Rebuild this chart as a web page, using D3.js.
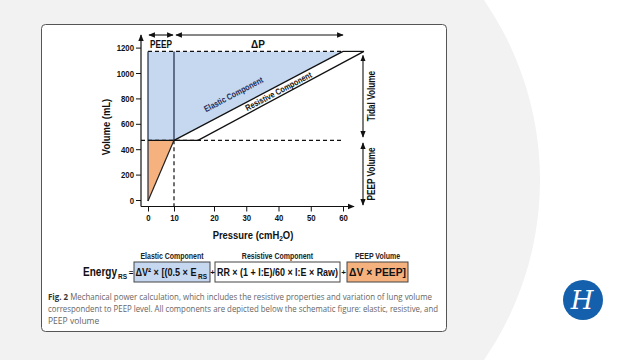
<!DOCTYPE html>
<html><head><meta charset="utf-8">
<script src="https://cdn.jsdelivr.net/npm/d3@7"></script>
<style>html,body{margin:0;padding:0;background:#fff;}svg{display:block;}</style>
</head><body>
<svg id="c" width="640" height="360"></svg>
<script>
// ---- data ----
const xTicks = [0, 10, 20, 30, 40, 50, 60];
const yTicks = [0, 200, 400, 600, 800, 1000, 1200];
const peepPressure = 10;
const peepVolume = 470;
const endVolume = 1170;
const plateauPressure = 60;
const peakPressure = 66.5;
const resistiveStart = 16;
const orangeTip = [0, -8];
const bluePts = [[0, 470], [0, 1170], [60, 1170], [10, 470]];
const orangePts = [[0, -8], [0, 470], [10, 470]];
const whitePts = [[10, 470], [16, 470], [66.5, 1170], [60, 1170]];
const equationLabels = ["Elastic Component", "Resistive Component", "PEEP Volume"];
const captionLines = [
  "Mechanical power calculation, which includes the resistive properties and variation of lung volume",
  "correspondent to PEEP level. All components are depicted below the schematic figure: elastic, resistive, and",
  "PEEP volume"
];

const svg = d3.select("#c");
const F = "'Liberation Sans', Arial, sans-serif";
const NARROW = 0.82;
// condense a text selection to emulate a narrow typeface
function narrow(sel, k) {
  sel.each(function () {
    const w = this.getComputedTextLength();
    d3.select(this).attr("textLength", w * (k || NARROW)).attr("lengthAdjust", "spacingAndGlyphs");
  });
  return sel;
}
// fit a text to a given width (only shrinks/condenses)
function fit(sel, width) {
  sel.each(function () {
    const w = this.getComputedTextLength();
    d3.select(this).attr("textLength", Math.min(w, width)).attr("lengthAdjust", "spacingAndGlyphs");
  });
  return sel;
}

// background
svg.append("rect").attr("width", 640).attr("height", 360).attr("fill", "#ffffff");
svg.append("circle").attr("cx", 223).attr("cy", 180).attr("r", 317).attr("fill", "#f2f2f2");

// card
svg.append("rect").attr("x", 41.5).attr("y", 24.5).attr("width", 405).attr("height", 307)
  .attr("rx", 4).attr("fill", "#fff").attr("stroke", "#555").attr("stroke-width", 1);

// logo
svg.append("circle").attr("cx", 583).attr("cy", 300).attr("r", 20).attr("fill", "#1560ac");
svg.append("text").attr("x", 582).attr("y", 309).attr("text-anchor", "middle")
  .attr("font-family", "'DejaVu Serif', serif").attr("font-style", "italic")
  .attr("font-size", 26).attr("fill", "#fff").text("H");

// scales
const x = d3.scaleLinear().domain([0, 10, 20, 60]).range([148, 174, 214, 343]);
const y = d3.scaleLinear().domain([0, 1200]).range([200, 47.6]);
const axisX0 = 141, axisY0 = 206.5;

// markers
const defs = svg.append("defs");
defs.append("marker").attr("id", "ah").attr("viewBox", "0 0 10 10").attr("refX", 9).attr("refY", 5)
  .attr("markerWidth", 6).attr("markerHeight", 6).attr("orient", "auto-start-reverse")
  .append("path").attr("d", "M0,1 L10,5 L0,9 Z").attr("fill", "#111");

const line = d3.line().x(d => x(d[0])).y(d => y(d[1]));
const g = svg.append("g");

// areas
g.append("path").attr("d", line(bluePts) + "Z").attr("fill", "#c5d8f0");
g.append("path").attr("d", line(orangePts) + "Z").attr("fill", "#f5b27e");
g.append("path").attr("d", line(whitePts) + "Z").attr("fill", "#fff");

// dashed lines
g.append("line").attr("x1", axisX0).attr("x2", x(plateauPressure)).attr("y1", y(peepVolume)).attr("y2", y(peepVolume))
  .attr("stroke", "#111").attr("stroke-width", 1.2).attr("stroke-dasharray", "4,3");
g.append("line").attr("x1", x(0)).attr("x2", x(plateauPressure)).attr("y1", y(endVolume)).attr("y2", y(endVolume))
  .attr("stroke", "#111").attr("stroke-width", 1.2).attr("stroke-dasharray", "4,3");
g.append("line").attr("x1", x(peepPressure)).attr("x2", x(peepPressure)).attr("y1", y(peepVolume)).attr("y2", axisY0)
  .attr("stroke", "#111").attr("stroke-width", 1.2).attr("stroke-dasharray", "4,3");

// solid outlines
const solid = (pts, col, w) => g.append("path").attr("d", line(pts)).attr("fill", "none")
  .attr("stroke", col).attr("stroke-width", w || 1.2);
solid([[0, orangeTip[1]], [0, endVolume]], "#1c2b48");
solid([[peepPressure, peepVolume], [peepPressure, endVolume]], "#1c2b48");
solid([[0, peepVolume], [resistiveStart, peepVolume]], "#111");
solid([[plateauPressure, endVolume], [peakPressure, endVolume]], "#111");
solid([orangeTip, [peepPressure, peepVolume]], "#222");
solid([[peepPressure, peepVolume], [plateauPressure, endVolume]], "#111", 1.3);
solid([[resistiveStart, peepVolume], [peakPressure, endVolume]], "#111", 1.3);

// axes
const yAxis = d3.axisLeft(y).tickValues(yTicks).tickFormat(d3.format("d")).tickSize(5).tickPadding(2);
const ya = svg.append("g").attr("transform", `translate(${axisX0},0)`).call(yAxis);
ya.select(".domain").remove();
ya.selectAll("line").attr("stroke", "#111").attr("stroke-width", 1);
narrow(ya.selectAll("text").attr("font-family", F).attr("font-weight", "bold").attr("font-size", 9.5).attr("fill", "#111"));
svg.append("line").attr("x1", axisX0).attr("x2", axisX0).attr("y1", axisY0).attr("y2", 35)
  .attr("stroke", "#111").attr("stroke-width", 1.2).attr("marker-end", "url(#ah)");

const xAxis = d3.axisBottom(x).tickValues(xTicks).tickFormat(d3.format("d")).tickSize(5).tickPadding(3);
const xa = svg.append("g").attr("transform", `translate(0,${axisY0})`).call(xAxis);
xa.select(".domain").remove();
xa.selectAll("line").attr("stroke", "#111").attr("stroke-width", 1);
narrow(xa.selectAll("text").attr("font-family", F).attr("font-weight", "bold").attr("font-size", 9.5).attr("fill", "#111"));
svg.append("line").attr("x1", axisX0).attr("x2", 354).attr("y1", axisY0).attr("y2", axisY0)
  .attr("stroke", "#111").attr("stroke-width", 1.2).attr("marker-end", "url(#ah)");

// axis titles
narrow(svg.append("text").attr("transform", "translate(110,127) rotate(-90)").attr("text-anchor", "middle")
  .attr("font-family", F).attr("font-weight", "bold").attr("font-size", 11.5).attr("fill", "#111").text("Volume (mL)"));
const pt = svg.append("text").attr("x", 253).attr("y", 239).attr("text-anchor", "middle")
  .attr("font-family", F).attr("font-weight", "bold").attr("font-size", 11.5).attr("fill", "#111");
pt.append("tspan").text("Pressure (cmH");
pt.append("tspan").attr("font-size", 8).attr("dy", 2).text("2");
pt.append("tspan").attr("dy", -2).text("O)");
narrow(pt);

// top arrows
const arrowH = (x1, x2, yy) => svg.append("line").attr("x1", x1).attr("x2", x2).attr("y1", yy).attr("y2", yy)
  .attr("stroke", "#111").attr("stroke-width", 1.1).attr("marker-start", "url(#ah)").attr("marker-end", "url(#ah)");
arrowH(x(0) + 1, x(peepPressure) - 1, 35);
arrowH(x(peepPressure) + 2, x(plateauPressure), 35);
narrow(svg.append("text").attr("x", (x(0) + x(peepPressure)) / 2).attr("y", 48).attr("text-anchor", "middle")
  .attr("font-family", F).attr("font-weight", "bold").attr("font-size", 10).attr("fill", "#111").text("PEEP"));
svg.append("text").attr("x", 258).attr("y", 48).attr("text-anchor", "middle")
  .attr("font-family", F).attr("font-weight", "bold").attr("font-size", 10).attr("fill", "#111").text("ΔP");

// right arrows
const arrowV = (xx, y1, y2) => svg.append("line").attr("x1", xx).attr("x2", xx).attr("y1", y1).attr("y2", y2)
  .attr("stroke", "#111").attr("stroke-width", 1.1).attr("marker-start", "url(#ah)").attr("marker-end", "url(#ah)");
arrowV(363, y(endVolume) + 4, 137);
arrowV(363, 143, 205);
narrow(svg.append("text").attr("transform", "translate(375,96) rotate(-90)").attr("text-anchor", "middle")
  .attr("font-family", F).attr("font-weight", "bold").attr("font-size", 10).attr("fill", "#111").text("Tidal Volume"));
narrow(svg.append("text").attr("transform", "translate(375,174) rotate(-90)").attr("text-anchor", "middle")
  .attr("font-family", F).attr("font-weight", "bold").attr("font-size", 10).attr("fill", "#111").text("PEEP Volume"));

// diagonal labels
const ang = Math.atan2(y(endVolume) - y(peepVolume), x(plateauPressure) - x(peepPressure)) * 180 / Math.PI;
narrow(svg.append("text").attr("transform", `translate(235,97) rotate(${ang})`).attr("text-anchor", "middle")
  .attr("font-family", F).attr("font-weight", "bold").attr("font-size", 8.8).attr("fill", "#1c2b58").text("Elastic Component"));
narrow(svg.append("text").attr("transform", `translate(280,94) rotate(${ang})`).attr("text-anchor", "middle")
  .attr("font-family", F).attr("font-weight", "bold").attr("font-size", 8.8).attr("fill", "#111").text("Resistive Component"));

// equation
const eqY = 276;
fit(svg.append("text").attr("x", 83).attr("y", eqY).attr("font-family", F).attr("font-weight", "bold")
  .attr("font-size", 12).attr("fill", "#111").text("Energy"), 34);
svg.append("text").attr("x", 118).attr("y", eqY + 2.5).attr("font-family", F).attr("font-weight", "bold")
  .attr("font-size", 6.5).attr("fill", "#111").text("RS");
svg.append("text").attr("x", 131).attr("y", eqY - 1).attr("text-anchor", "middle").attr("font-family", F)
  .attr("font-weight", "bold").attr("font-size", 8).attr("fill", "#111").text("=");

const boxes = [
  {x0: 134, x1: 210, fill: "#c5d8f0"},
  {x0: 215, x1: 340, fill: "#ffffff"},
  {x0: 347, x1: 408, fill: "#f5b27e"}
];
boxes.forEach((b, i) => {
  svg.append("rect").attr("x", b.x0).attr("y", 262).attr("width", b.x1 - b.x0).attr("height", 20)
    .attr("fill", b.fill).attr("stroke", "#444").attr("stroke-width", 1);
  narrow(svg.append("text").attr("x", (b.x0 + b.x1) / 2).attr("y", 258.5).attr("text-anchor", "middle")
    .attr("font-family", F).attr("font-weight", "bold").attr("font-size", 8.5).attr("fill", "#222").text(equationLabels[i]));
});
fit(svg.append("text").attr("x", 135.5).attr("y", eqY).attr("font-family", F).attr("font-weight", "bold")
  .attr("font-size", 11).attr("fill", "#111").text("ΔV² × [(0.5 × E"), 61);
svg.append("text").attr("x", 198).attr("y", eqY + 2.5).attr("font-family", F).attr("font-weight", "bold")
  .attr("font-size", 6.5).attr("fill", "#111").text("RS");
svg.append("text").attr("x", 212.5).attr("y", eqY - 1).attr("text-anchor", "middle").attr("font-family", F)
  .attr("font-weight", "bold").attr("font-size", 8).attr("fill", "#111").text("+");
fit(svg.append("text").attr("x", 217).attr("y", eqY).attr("font-family", F).attr("font-weight", "bold")
  .attr("font-size", 11).attr("fill", "#111").text("RR × (1 + I:E)/60 × I:E × Raw)"), 121);
svg.append("text").attr("x", 343.5).attr("y", eqY - 1).attr("text-anchor", "middle").attr("font-family", F)
  .attr("font-weight", "bold").attr("font-size", 8).attr("fill", "#111").text("+");
fit(svg.append("text").attr("x", 349).attr("y", eqY).attr("font-family", F).attr("font-weight", "bold")
  .attr("font-size", 11).attr("fill", "#111").text("ΔV × PEEP]"), 57);

// caption
const CF = "'Open Sans', 'Noto Sans', sans-serif";
const c1 = svg.append("text").attr("x", 48).attr("y", 300).attr("font-family", CF).attr("font-size", 8.5)
  .attr("fill", "#666").attr("textLength", 384).attr("lengthAdjust", "spacingAndGlyphs");
c1.append("tspan").attr("font-weight", "bold").attr("fill", "#333").text("Fig. 2 ");
c1.append("tspan").text(captionLines[0]);
svg.append("text").attr("x", 48).attr("y", 312).attr("font-family", CF).attr("font-size", 8.5)
  .attr("fill", "#666").attr("textLength", 390).attr("lengthAdjust", "spacingAndGlyphs").text(captionLines[1]);
svg.append("text").attr("x", 48).attr("y", 324).attr("font-family", CF).attr("font-size", 8.5)
  .attr("fill", "#666").text(captionLines[2]);
</script>
</body></html>
